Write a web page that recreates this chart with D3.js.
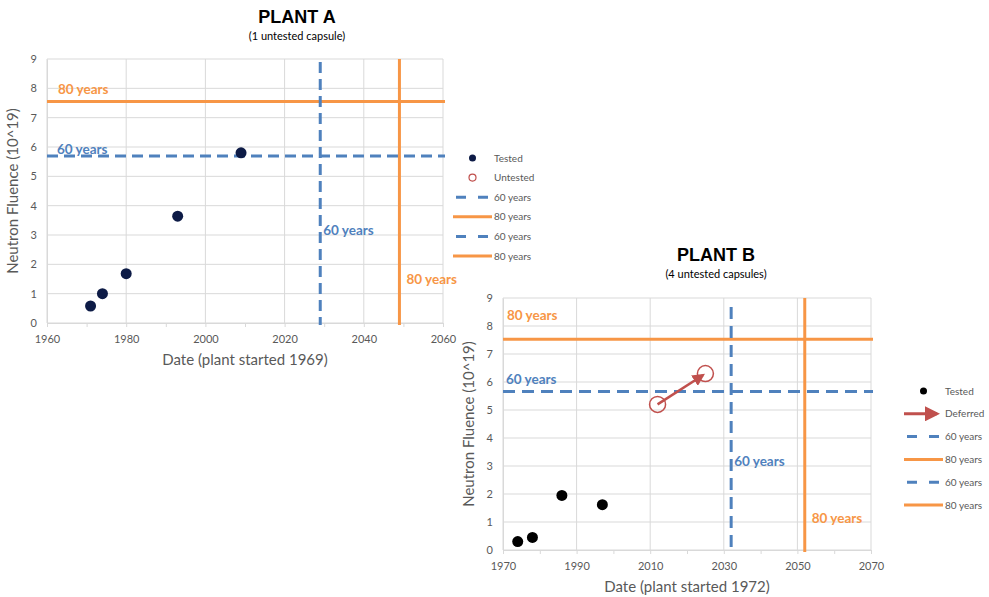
<!DOCTYPE html>
<html>
<head>
<meta charset="utf-8">
<script src="https://cdn.jsdelivr.net/npm/d3@7"></script>
<style>
  body { margin: 0; background: #fff; }
  text { font-family: Lato, "Open Sans", sans-serif; }
</style>
</head>
<body>
<div id="chart"></div>
<script>
// Plant A data
const plantAYears = [1971, 1974, 1980, 1993, 2009];
const plantAFluence = [0.58, 1.0, 1.68, 3.64, 5.8];
const plantALimits = { fluence60: 5.69, fluence80: 7.55, year60: 2029, year80: 2049 };
const plantAXTicks = [1960, 1980, 2000, 2020, 2040, 2060];

// Plant B data
const plantBYears = [1974, 1978, 1986, 1997];
const plantBFluence = [0.3, 0.45, 1.95, 1.62];
const plantBDeferredYears = [2012, 2025];
const plantBDeferredFluence = [5.2, 6.3];
const plantBLimits = { fluence60: 5.66, fluence80: 7.53, year60: 2032, year80: 2052 };
const plantBXTicks = [1970, 1990, 2010, 2030, 2050, 2070];

const yTicks = [0, 1, 2, 3, 4, 5, 6, 7, 8, 9];

const blue = "#4f81bd";
const orange = "#f79646";
const red = "#c0504d";
const grid = "#d9d9d9";
const textGray = "#595959";

const svg = d3.select("#chart").append("svg")
  .attr("width", 989)
  .attr("height", 597);

const defs = svg.append("defs");
defs.append("marker")
  .attr("id", "arrowhead")
  .attr("viewBox", "0 0 10 10")
  .attr("refX", 8).attr("refY", 5)
  .attr("markerWidth", 5).attr("markerHeight", 5)
  .attr("orient", "auto")
  .append("path")
  .attr("d", "M0,0 L10,5 L0,10 z")
  .attr("fill", red);

function drawPlant(cfg) {
  const x = d3.scaleLinear().domain(cfg.xDomain).range([cfg.left, cfg.right]);
  const y = d3.scaleLinear().domain([0, 9]).range([cfg.bottom, cfg.top]);
  const g = svg.append("g");

  // gridlines
  g.selectAll(".hgrid").data(yTicks).enter().append("line")
    .attr("x1", cfg.left).attr("x2", cfg.right)
    .attr("y1", d => y(d)).attr("y2", d => y(d))
    .attr("stroke", grid).attr("stroke-width", 1);
  g.selectAll(".vgrid").data(cfg.xTicks).enter().append("line")
    .attr("x1", d => x(d)).attr("x2", d => x(d))
    .attr("y1", cfg.top).attr("y2", cfg.bottom)
    .attr("stroke", grid).attr("stroke-width", 1);

  // axes
  const xAxis = d3.axisBottom(x).tickValues(d3.range(cfg.xDomain[0], cfg.xDomain[1] + 1, 10))
    .tickSize(4).tickFormat(d => cfg.xTicks.includes(d) ? d : "");
  const xg = g.append("g").attr("transform", `translate(0,${cfg.bottom})`).call(xAxis);
  xg.select(".domain").attr("stroke", grid);
  xg.selectAll(".tick line").attr("stroke", grid);
  xg.selectAll("text").attr("fill", textGray).attr("font-size", 11).attr("dy", "1.2em");

  const yAxis = d3.axisLeft(y).tickValues(yTicks).tickSize(0).tickPadding(10);
  const yg = g.append("g").attr("transform", `translate(${cfg.left},0)`).call(yAxis);
  yg.select(".domain").attr("stroke", grid);
  yg.selectAll("text").attr("fill", textGray).attr("font-size", 11);

  // limit lines
  g.append("line")
    .attr("x1", cfg.left).attr("x2", cfg.right + 2)
    .attr("y1", y(cfg.limits.fluence80)).attr("y2", y(cfg.limits.fluence80))
    .attr("stroke", orange).attr("stroke-width", 3);
  g.append("line")
    .attr("x1", cfg.left).attr("x2", cfg.right + 2)
    .attr("y1", y(cfg.limits.fluence60)).attr("y2", y(cfg.limits.fluence60))
    .attr("stroke", blue).attr("stroke-width", 3).attr("stroke-dasharray", cfg.dash);
  g.append("line")
    .attr("x1", x(cfg.limits.year60)).attr("x2", x(cfg.limits.year60))
    .attr("y1", cfg.top + cfg.vTopOffset).attr("y2", cfg.bottom + 2)
    .attr("stroke", blue).attr("stroke-width", 3).attr("stroke-dasharray", cfg.dash);
  g.append("line")
    .attr("x1", x(cfg.limits.year80)).attr("x2", x(cfg.limits.year80))
    .attr("y1", cfg.top).attr("y2", cfg.bottom + 2)
    .attr("stroke", orange).attr("stroke-width", 3);

  // limit labels
  const lab = (tx, ty, txt, col) => g.append("text")
    .attr("x", tx).attr("y", ty).attr("fill", col)
    .attr("font-size", 13.5).attr("font-weight", "bold").text(txt);
  lab(cfg.left + cfg.labelDx, y(cfg.limits.fluence80) - cfg.label80dy, "80 years", orange);
  lab(cfg.left + cfg.labelDx - 1, y(cfg.limits.fluence60) - cfg.label60dy, "60 years", blue);
  lab(x(cfg.limits.year60) + 3, cfg.label60y, "60 years", blue);
  lab(x(cfg.limits.year80) + 7, cfg.label80y, "80 years", orange);

  // tested points
  g.selectAll(".pt").data(cfg.years).enter().append("circle")
    .attr("cx", d => x(d))
    .attr("cy", (d, i) => y(cfg.fluence[i]))
    .attr("r", 5.5)
    .attr("fill", cfg.testedColor);

  // deferred capsules
  if (cfg.deferYears) {
    const p0 = [x(cfg.deferYears[0]), y(cfg.deferFluence[0])];
    const p1 = [x(cfg.deferYears[1]), y(cfg.deferFluence[1])];
    const ang = Math.atan2(p1[1] - p0[1], p1[0] - p0[0]);
    g.append("line")
      .attr("x1", p0[0]).attr("y1", p0[1])
      .attr("x2", p1[0] - Math.cos(ang) * 3).attr("y2", p1[1] - Math.sin(ang) * 3)
      .attr("stroke", red).attr("stroke-width", 2.5)
      .attr("marker-end", "url(#arrowhead)");
    g.selectAll(".def").data(cfg.deferYears).enter().append("circle")
      .attr("cx", d => x(d))
      .attr("cy", (d, i) => y(cfg.deferFluence[i]))
      .attr("r", 8)
      .attr("fill", "none").attr("stroke", red).attr("stroke-width", 1.5);
  }

  // titles
  svg.append("text").attr("x", cfg.titleX).attr("y", cfg.titleY)
    .attr("text-anchor", "middle").attr("font-size", 18).attr("font-weight", "bold")
    .style("font-family", "'Liberation Sans', Arial, sans-serif")
    .attr("fill", "#000").text(cfg.title);
  svg.append("text").attr("x", cfg.titleX).attr("y", cfg.titleY + 17)
    .attr("text-anchor", "middle").attr("font-size", 11)
    .attr("fill", "#000").text(cfg.subtitle);

  // axis titles
  svg.append("text").attr("x", (cfg.left + cfg.right) / 2).attr("y", cfg.bottom + 42)
    .attr("text-anchor", "middle").attr("font-size", 15).attr("fill", textGray)
    .text(cfg.xLabel);
  svg.append("text")
    .attr("transform", `translate(${cfg.left - 29},${(cfg.top + cfg.bottom) / 2}) rotate(-90)`)
    .attr("text-anchor", "middle").attr("font-size", 15).attr("fill", textGray)
    .text("Neutron Fluence (10^19)");

  // legend
  const lg = svg.append("g").attr("transform", `translate(${cfg.legendX},${cfg.legendY})`);
  const step = cfg.legendStep;
  const lx0 = 0, lx1 = 39, tx = 41;
  lg.append("circle").attr("cx", (lx0 + lx1) / 2).attr("cy", 0).attr("r", 3.5).attr("fill", cfg.testedColor);
  lg.append("text").attr("x", tx).attr("y", 0).attr("dy", "0.35em").attr("font-size", 10)
    .attr("fill", textGray).text("Tested");
  if (cfg.deferYears) {
    lg.append("line").attr("x1", lx0).attr("x2", lx1 - 6).attr("y1", step).attr("y2", step)
      .attr("stroke", red).attr("stroke-width", 3).attr("marker-end", "url(#arrowhead)");
    lg.append("text").attr("x", tx).attr("y", step).attr("dy", "0.35em").attr("font-size", 10)
      .attr("fill", textGray).text("Deferred");
  } else {
    lg.append("circle").attr("cx", (lx0 + lx1) / 2).attr("cy", step).attr("r", 3.5)
      .attr("fill", "none").attr("stroke", red).attr("stroke-width", 1.2);
    lg.append("text").attr("x", tx).attr("y", step).attr("dy", "0.35em").attr("font-size", 10)
      .attr("fill", textGray).text("Untested");
  }
  [["60 years", blue, true], ["80 years", orange, false], ["60 years", blue, true], ["80 years", orange, false]]
    .forEach((it, i) => {
      const yy = step * (i + 2);
      lg.append("line").attr("x1", lx0 + (it[2] ? 3 : 0)).attr("x2", lx1)
        .attr("y1", yy).attr("y2", yy)
        .attr("stroke", it[1]).attr("stroke-width", 3)
        .attr("stroke-dasharray", it[2] ? "10,12" : null);
      lg.append("text").attr("x", tx).attr("y", yy).attr("dy", "0.35em").attr("font-size", 10)
        .attr("fill", textGray).text(it[0]);
    });
}

drawPlant({
  title: "PLANT A", subtitle: "(1 untested capsule)", titleX: 297, titleY: 23,
  xLabel: "Date (plant started 1969)",
  xDomain: [1960, 2060], xTicks: plantAXTicks,
  left: 47, right: 443, top: 59, bottom: 323,
  years: plantAYears, fluence: plantAFluence, testedColor: "#0d1b46",
  limits: plantALimits, vTopOffset: 3, label60y: 235, label80y: 284,
  labelDx: 11, label80dy: 8, label60dy: 2, dash: "11,6",
  legendX: 453, legendY: 158, legendStep: 19.6
});

drawPlant({
  title: "PLANT B", subtitle: "(4 untested capsules)", titleX: 716, titleY: 261,
  xLabel: "Date (plant started 1972)",
  xDomain: [1970, 2070], xTicks: plantBXTicks,
  left: 503, right: 871, top: 298, bottom: 550,
  years: plantBYears, fluence: plantBFluence, testedColor: "#000",
  deferYears: plantBDeferredYears, deferFluence: plantBDeferredFluence,
  limits: plantBLimits, vTopOffset: 9, label60y: 466, label80y: 523,
  labelDx: 4, label80dy: 19, label60dy: 8, dash: "12,7",
  legendX: 904, legendY: 391, legendStep: 22.8
});
</script>
</body>
</html>
